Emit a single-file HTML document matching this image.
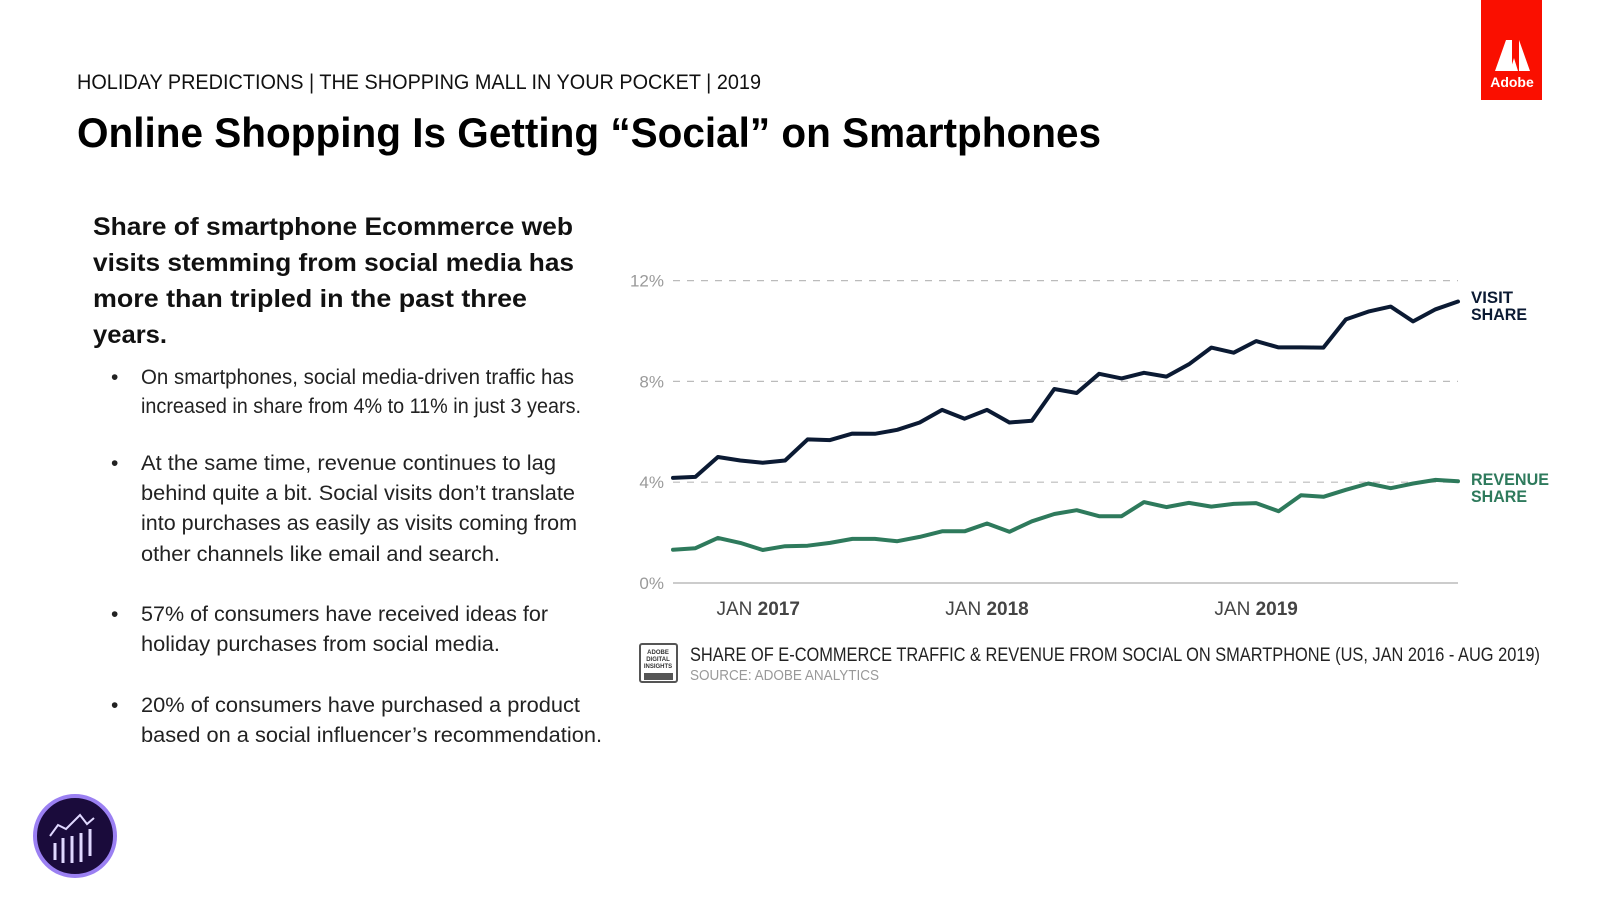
<!DOCTYPE html>
<html><head><meta charset="utf-8"><style>
html,body{margin:0;padding:0;background:#fff;width:1600px;height:900px;overflow:hidden}
svg{display:block;font-family:"Liberation Sans",sans-serif}
</style></head><body>
<svg id="root" width="1600" height="900" viewBox="0 0 1600 900" xmlns="http://www.w3.org/2000/svg">
<text x="77" y="89" font-size="21" fill="#111" textLength="684" lengthAdjust="spacingAndGlyphs">HOLIDAY PREDICTIONS | THE SHOPPING MALL IN YOUR POCKET | 2019</text>
<text x="77" y="147" font-size="42" font-weight="bold" fill="#000" textLength="1024" lengthAdjust="spacingAndGlyphs">Online Shopping Is Getting “Social” on Smartphones</text>
<g>
<rect x="1481" y="0" width="61" height="100" fill="#fa0f00"/>
<path d="M1495 71 L1506 40 L1512 40 L1512 71 Z M1530 71 L1519 40 L1519 71 Z M1510 71 L1514 58 L1518 71 Z" fill="#fff"/>
<text x="1512" y="87" font-size="14" font-weight="bold" fill="#fff" text-anchor="middle">Adobe</text>
</g>
<g font-weight="bold" font-size="25" fill="#111">
<text x="93" y="235" textLength="480" lengthAdjust="spacingAndGlyphs">Share of smartphone Ecommerce web</text>
<text x="93" y="271" textLength="481" lengthAdjust="spacingAndGlyphs">visits stemming from social media has</text>
<text x="93" y="307" textLength="434" lengthAdjust="spacingAndGlyphs">more than tripled in the past three</text>
<text x="93" y="343" textLength="74" lengthAdjust="spacingAndGlyphs">years.</text>
</g>
<g font-size="21" fill="#222">
<text x="111" y="384">•</text>
<text x="141" y="384" textLength="433" lengthAdjust="spacingAndGlyphs">On smartphones, social media-driven traffic has</text>
<text x="141" y="413" textLength="440" lengthAdjust="spacingAndGlyphs">increased in share from 4% to 11% in just 3 years.</text>
<text x="111" y="470">•</text>
<text x="141" y="470" textLength="415" lengthAdjust="spacingAndGlyphs">At the same time, revenue continues to lag</text>
<text x="141" y="500" textLength="434" lengthAdjust="spacingAndGlyphs">behind quite a bit. Social visits don’t translate</text>
<text x="141" y="530" textLength="436" lengthAdjust="spacingAndGlyphs">into purchases as easily as visits coming from</text>
<text x="141" y="561" textLength="359" lengthAdjust="spacingAndGlyphs">other channels like email and search.</text>
<text x="111" y="621">•</text>
<text x="141" y="621" textLength="407" lengthAdjust="spacingAndGlyphs">57% of consumers have received ideas for</text>
<text x="141" y="651" textLength="359" lengthAdjust="spacingAndGlyphs">holiday purchases from social media.</text>
<text x="111" y="712">•</text>
<text x="141" y="712" textLength="439" lengthAdjust="spacingAndGlyphs">20% of consumers have purchased a product</text>
<text x="141" y="742" textLength="461" lengthAdjust="spacingAndGlyphs">based on a social influencer’s recommendation.</text>
</g>
<g id="chart"></g>
<g>
<rect x="640" y="644" width="37" height="38" fill="#fff" stroke="#555" stroke-width="2" rx="2"/>
<rect x="644" y="673" width="29" height="7" fill="#555"/>
<text x="658" y="654" font-size="6" font-weight="bold" fill="#333" text-anchor="middle">ADOBE</text>
<text x="658" y="661" font-size="6" font-weight="bold" fill="#333" text-anchor="middle">DIGITAL</text>
<text x="658" y="668" font-size="6" font-weight="bold" fill="#333" text-anchor="middle">INSIGHTS</text>
<text x="690" y="661" font-size="19" fill="#222" textLength="850" lengthAdjust="spacingAndGlyphs">SHARE OF E-COMMERCE TRAFFIC &amp; REVENUE FROM SOCIAL ON SMARTPHONE (US, JAN 2016 - AUG 2019)</text>
<text x="690" y="680" font-size="15" fill="#999" textLength="189" lengthAdjust="spacingAndGlyphs">SOURCE: ADOBE ANALYTICS</text>
</g>
<g>
<circle cx="75" cy="836" r="40" fill="#1a0b3b" stroke="#9b80f2" stroke-width="4"/>
<path d="M55 860 V843 M63 863 V838 M72 863 V836 M81 862 V833 M90 856 V829" stroke="#e0d8ff" stroke-width="3"/>
<path d="M50 836 L58 825 L66 829 L80 815 L87 824 L94 818" stroke="#e0d8ff" stroke-width="2" fill="none"/>
</g>
</svg>
<script>
const visitShare = [4.17,4.21,5.0,4.86,4.77,4.86,5.70,5.67,5.93,5.92,6.08,6.37,6.87,6.52,6.87,6.37,6.44,7.70,7.54,8.30,8.12,8.34,8.19,8.68,9.34,9.14,9.60,9.35,9.35,9.34,10.46,10.77,10.97,10.38,10.86,11.17];
const revenueShare = [1.32,1.38,1.79,1.59,1.31,1.46,1.48,1.59,1.75,1.75,1.66,1.83,2.05,2.05,2.36,2.03,2.45,2.74,2.89,2.65,2.65,3.21,3.01,3.18,3.03,3.14,3.17,2.85,3.48,3.42,3.70,3.95,3.76,3.95,4.09,4.04];
const yTicks = [0,4,8,12];
const xTickIndex = [3.8,14,26];
const xTickYears = ["2017","2018","2019"];

const NS = "http://www.w3.org/2000/svg";
const chart = document.getElementById("chart");
const X0 = 673, X1 = 1458, Y0 = 583, YPER = 25.2;
const n = visitShare.length;
function xs(i){ return X0 + (X1 - X0) * i / (n - 1); }
function ys(v){ return Y0 - v * YPER; }
function mk(tag, attrs){ const e = document.createElementNS(NS, tag); for (const k in attrs) e.setAttribute(k, attrs[k]); chart.appendChild(e); return e; }

yTicks.forEach(function(t){
  const g = mk("line", {x1:X0, x2:X1, y1:ys(t), y2:ys(t), stroke: t===0 ? "#ccc" : "#bbb", "stroke-width": t===0 ? 2 : 1.2, "stroke-dasharray": t===0 ? "none" : "7 7"});
  
  
  const l = mk("text", {x:664, y:ys(t)+6, "font-size":17, fill:"#9a9a9a", "text-anchor":"end"});
  l.textContent = t + "%";
  
  
});
xTickIndex.forEach(function(idx, k){
  const t = mk("text", {x:xs(idx), y:615, "font-size":19, fill:"#444", "text-anchor":"middle"});
  t.innerHTML = 'JAN <tspan font-weight="bold">' + xTickYears[k] + '</tspan>';
  
  
});
function line(data, color, name){
  const d = data.map(function(v,i){ return (i ? "L" : "M") + xs(i).toFixed(1) + " " + ys(v).toFixed(1); }).join(" ");
  const p = mk("path", {d:d, fill:"none", stroke:color, "stroke-width":4, "stroke-linejoin":"round", "stroke-linecap":"round"});
  
  
}
line(revenueShare, "#2e7a5c", "revenue-share-line");
line(visitShare, "#0b1a33", "visit-share-line");

function lbl(txt, x, y, w, color, name){
  const t = mk("text", {x:x, y:y, "font-size":17, "font-weight":"bold", fill:color, textLength:w, lengthAdjust:"spacingAndGlyphs"});
  t.textContent = txt;
  
  
}
lbl("VISIT", 1471, 303, 42, "#0b1a33", "legend-visit-share");
lbl("SHARE", 1471, 320, 56, "#0b1a33", "legend-visit-share");
lbl("REVENUE", 1471, 485, 78, "#2e7a5c", "legend-revenue-share");
lbl("SHARE", 1471, 502, 56, "#2e7a5c", "legend-revenue-share");
</script>
</body></html>
